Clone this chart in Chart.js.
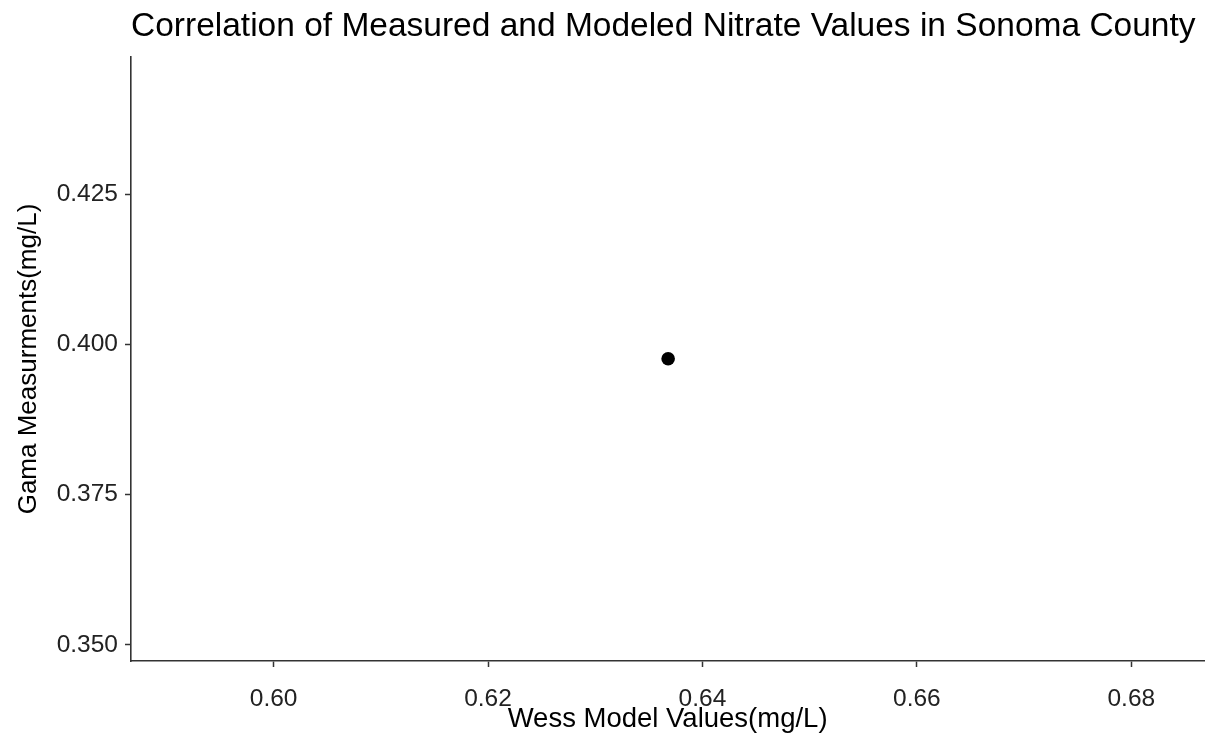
<!DOCTYPE html>
<html>
<head>
<meta charset="utf-8">
<script src="https://cdn.jsdelivr.net/npm/chart.js@4.4.1/dist/chart.umd.min.js"></script>
<style>
  html, body { margin: 0; padding: 0; background: #ffffff; }
  #wrap { width: 1211px; height: 734px; position: relative; }
</style>
</head>
<body>
<div id="wrap"><canvas id="c" width="1211" height="734"></canvas></div>
<script>
// ---- data ----
const wessModel = [0.6368];          // x: Wess Model Values (mg/L)
const gamaMeasured = [0.3976];       // y: Gama Measurments (mg/L)
const xTickValues = [0.60, 0.62, 0.64, 0.66, 0.68];
const yTickValues = [0.350, 0.375, 0.400, 0.425];
const xRange = [0.5867, 0.6868];
const yRange = [0.3473, 0.4478];

const titleText = 'Correlation of Measured and Modeled Nitrate Values in Sonoma County';
const xTitle = 'Wess Model Values(mg/L)';
const yTitle = 'Gama Measurments(mg/L)';

const points = wessModel.map((x, i) => ({ x: x, y: gamaMeasured[i] }));

const FONT = "'Liberation Sans', Arial, Helvetica, sans-serif";
const AXIS = '#333333';

new Chart(document.getElementById('c'), {
  type: 'scatter',
  data: {
    datasets: [{
      data: points,
      backgroundColor: '#000000',
      borderColor: '#000000',
      borderWidth: 0,
      pointRadius: 6.8,
      pointHoverRadius: 6.8
    }]
  },
  options: {
    responsive: false,
    animation: false,
    devicePixelRatio: 1,
    layout: { padding: { left: 0, right: 3, top: 0, bottom: 0 } },
    plugins: {
      legend: { display: false },
      tooltip: { enabled: false },
      title: {
        display: true,
        text: titleText,
        align: 'start',
        fullSize: false,
        color: '#000000',
        font: { family: FONT, size: 33.5, weight: 'normal' },
        padding: { top: 7, bottom: 9.8 }
      }
    },
    scales: {
      x: {
        type: 'linear',
        min: xRange[0],
        max: xRange[1],
        afterBuildTicks: (s) => { s.ticks = xTickValues.map(v => ({ value: v })); },
        afterFit: (s) => { s.height = 73; s.paddingLeft = 0; s.paddingRight = 0; },
        ticks: {
          color: '#222222',
          font: { family: FONT, size: 24.5 },
          padding: 18,
          maxRotation: 0,
          callback: (v) => Number(v).toFixed(2)
        },
        grid: {
          display: true,
          drawOnChartArea: false,
          drawTicks: true,
          tickLength: 6,
          tickColor: AXIS,
          tickWidth: 1.5
        },
        border: { display: true, color: AXIS, width: 1.6 },
        title: {
          display: true,
          text: xTitle,
          color: '#000000',
          font: { family: FONT, size: 27.5 },
          padding: { top: 0, bottom: -2 }
        }
      },
      y: {
        type: 'linear',
        min: yRange[0],
        max: yRange[1],
        afterBuildTicks: (s) => { s.ticks = yTickValues.map(v => ({ value: v })); },
        afterFit: (s) => { s.width = 131; },
        ticks: {
          color: '#222222',
          font: { family: FONT, size: 24.5 },
          padding: 7,
          callback: (v) => Number(v).toFixed(3)
        },
        grid: {
          display: true,
          drawOnChartArea: false,
          drawTicks: true,
          tickLength: 6,
          tickColor: AXIS,
          tickWidth: 1.5
        },
        border: { display: true, color: AXIS, width: 1.6 },
        title: {
          display: true,
          text: yTitle,
          color: '#000000',
          font: { family: FONT, size: 26 },
          padding: { top: 13, bottom: 0 }
        }
      }
    }
  }
});
</script>
</body>
</html>
